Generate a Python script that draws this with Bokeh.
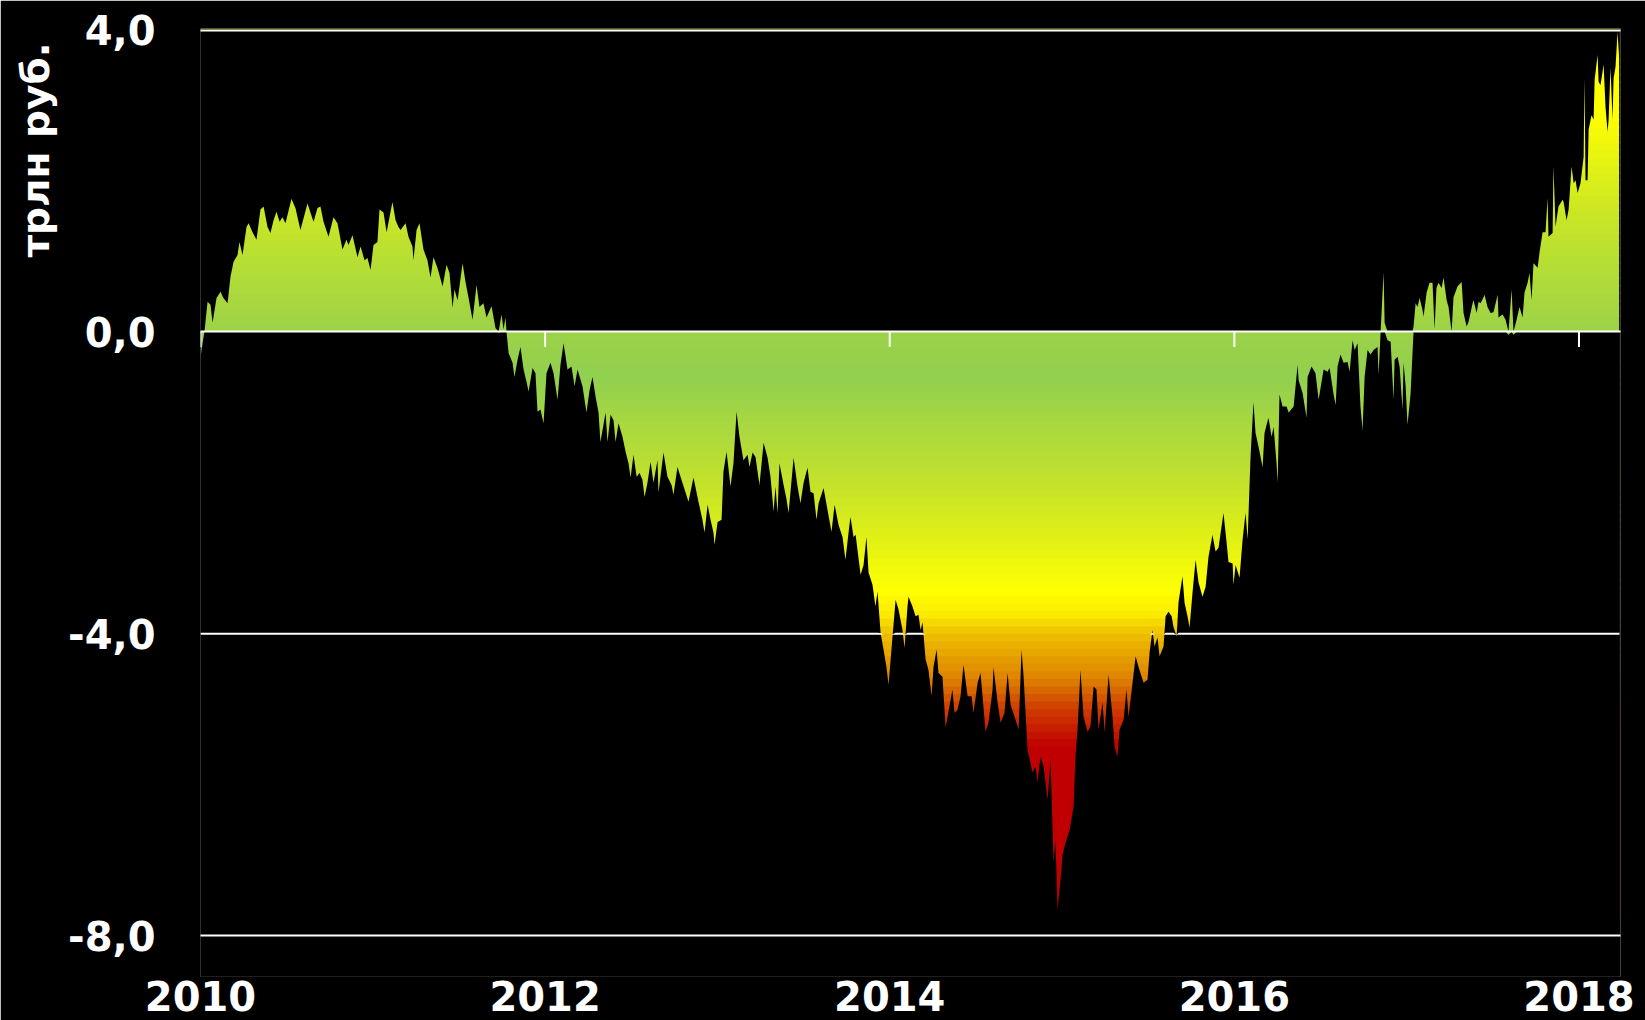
import numpy as np
from bokeh.plotting import figure
from bokeh.models import FixedTicker, Range1d, Title
from bokeh.embed import file_html
from bokeh.resources import INLINE

# ---- data (decimal year, trillion rubles) ----
year = [
    2010.000, 2010.012, 2010.023, 2010.041, 2010.058, 2010.070, 2010.093, 2010.116, 2010.133, 2010.157,
    2010.174, 2010.192, 2010.215, 2010.226, 2010.244, 2010.267, 2010.279, 2010.302, 2010.325, 2010.348,
    2010.366, 2010.389, 2010.406, 2010.424, 2010.441, 2010.459, 2010.476, 2010.493, 2010.528, 2010.551,
    2010.580, 2010.621, 2010.638, 2010.656, 2010.679, 2010.696, 2010.714, 2010.743, 2010.772, 2010.795,
    2010.824, 2010.847, 2010.859, 2010.882, 2010.911, 2010.929, 2010.952, 2010.969, 2010.987, 2011.004,
    2011.027, 2011.039, 2011.062, 2011.080, 2011.114, 2011.132, 2011.149,
    2011.161, 2011.190, 2011.207, 2011.230, 2011.236, 2011.254, 2011.271, 2011.294, 2011.317, 2011.335,
    2011.352, 2011.375, 2011.405, 2011.428, 2011.445, 2011.463, 2011.474, 2011.492, 2011.521, 2011.538,
    2011.555, 2011.579, 2011.602, 2011.619, 2011.642, 2011.660, 2011.689, 2011.712, 2011.730, 2011.747,
    2011.759, 2011.770, 2011.776, 2011.788, 2011.811, 2011.822, 2011.840, 2011.857, 2011.875, 2011.892,
    2011.904, 2011.927, 2011.944, 2011.956, 2011.973, 2011.991, 2012.008, 2012.031, 2012.049, 2012.072,
    2012.089, 2012.107, 2012.130, 2012.153, 2012.171, 2012.188, 2012.217, 2012.240, 2012.258, 2012.275,
    2012.293, 2012.310,
    2012.321, 2012.351, 2012.362, 2012.380, 2012.397, 2012.409, 2012.426, 2012.449, 2012.467, 2012.484,
    2012.496, 2012.513, 2012.531, 2012.548, 2012.565, 2012.577, 2012.594, 2012.612, 2012.629, 2012.652,
    2012.658, 2012.687, 2012.710, 2012.734, 2012.745, 2012.768, 2012.797, 2012.815, 2012.832, 2012.861,
    2012.890, 2012.913, 2012.925, 2012.943, 2012.960, 2012.977, 2012.983, 2013.001, 2013.024, 2013.035,
    2013.053, 2013.076, 2013.093, 2013.111, 2013.128, 2013.151, 2013.175, 2013.186, 2013.204, 2013.221,
    2013.244, 2013.268, 2013.291, 2013.308, 2013.326, 2013.337, 2013.349, 2013.360, 2013.384, 2013.401,
    2013.413, 2013.442, 2013.465, 2013.482,
    2013.500, 2013.523, 2013.540, 2013.558, 2013.575, 2013.587, 2013.616, 2013.639, 2013.662, 2013.680,
    2013.703, 2013.726, 2013.743, 2013.761, 2013.772, 2013.790, 2013.802, 2013.831, 2013.848, 2013.865,
    2013.877, 2013.900, 2013.917, 2013.929, 2013.947, 2013.964, 2013.981, 2013.993, 2014.010, 2014.034,
    2014.051, 2014.074, 2014.086, 2014.103, 2014.109, 2014.132, 2014.150, 2014.167, 2014.179, 2014.190,
    2014.208, 2014.225, 2014.243, 2014.254, 2014.272, 2014.283, 2014.306, 2014.318,
    2014.324, 2014.364, 2014.376, 2014.393, 2014.411, 2014.428, 2014.452, 2014.475, 2014.486, 2014.510,
    2014.527, 2014.544, 2014.556, 2014.573, 2014.597, 2014.602, 2014.626, 2014.643, 2014.666, 2014.684,
    2014.701, 2014.730, 2014.748, 2014.765, 2014.777, 2014.800, 2014.829, 2014.846, 2014.858, 2014.875,
    2014.893, 2014.916, 2014.933, 2014.951, 2014.962, 2014.974, 2014.991, 2015.003, 2015.020, 2015.044,
    2015.067, 2015.078, 2015.090, 2015.107, 2015.125, 2015.148, 2015.165, 2015.183, 2015.200, 2015.212,
    2015.235, 2015.247, 2015.270, 2015.293, 2015.305, 2015.322, 2015.334, 2015.357, 2015.374, 2015.386,
    2015.409, 2015.427, 2015.444, 2015.473, 2015.496, 2015.508, 2015.525, 2015.537, 2015.554, 2015.566,
    2015.589, 2015.601, 2015.618, 2015.636, 2015.647, 2015.665, 2015.676, 2015.699, 2015.711,
    2015.728, 2015.740, 2015.757, 2015.775, 2015.792, 2015.815, 2015.833, 2015.850, 2015.873, 2015.891,
    2015.908, 2015.937, 2015.955, 2015.966, 2015.990, 2015.995, 2016.007, 2016.030, 2016.048, 2016.065,
    2016.077, 2016.094, 2016.111, 2016.123, 2016.140, 2016.164, 2016.175, 2016.198, 2016.216, 2016.228,
    2016.245, 2016.251, 2016.262, 2016.280, 2016.303, 2016.315, 2016.344, 2016.367, 2016.373, 2016.396,
    2016.419, 2016.425, 2016.448, 2016.471, 2016.489, 2016.518, 2016.541, 2016.553, 2016.576, 2016.588,
    2016.599, 2016.616, 2016.634, 2016.657, 2016.669, 2016.686, 2016.698, 2016.715, 2016.732, 2016.744,
    2016.756, 2016.773, 2016.791, 2016.808, 2016.831, 2016.837,
    2016.849, 2016.866, 2016.872, 2016.889, 2016.907, 2016.924, 2016.930, 2016.947, 2016.959, 2016.976,
    2016.982, 2016.994, 2017.005, 2017.023, 2017.034, 2017.040, 2017.052, 2017.063, 2017.075, 2017.092,
    2017.098, 2017.116, 2017.133, 2017.150, 2017.162, 2017.173, 2017.185, 2017.203, 2017.214, 2017.232,
    2017.243, 2017.261, 2017.272, 2017.295, 2017.319, 2017.330, 2017.348, 2017.359, 2017.383, 2017.388,
    2017.406, 2017.417, 2017.429, 2017.446, 2017.452, 2017.469, 2017.487, 2017.504, 2017.528, 2017.533,
    2017.557, 2017.574, 2017.591, 2017.609, 2017.620, 2017.638, 2017.655, 2017.673, 2017.684, 2017.702,
    2017.713, 2017.725, 2017.736, 2017.760, 2017.771, 2017.789, 2017.806, 2017.818, 2017.823, 2017.847,
    2017.852, 2017.864, 2017.881, 2017.905, 2017.911, 2017.928, 2017.940, 2017.957, 2017.969, 2017.980,
    2017.992, 2018.009, 2018.027, 2018.032, 2018.038, 2018.050, 2018.056, 2018.073, 2018.085, 2018.091,
    2018.108, 2018.114, 2018.125, 2018.143, 2018.154, 2018.166, 2018.172, 2018.183, 2018.195, 2018.201,
    2018.212, 2018.224, 2018.235,
]

balance = [
    -0.35, -0.15, 0.00, 0.40, 0.36, 0.12, 0.45, 0.53, 0.45, 0.38,
    0.73, 0.93, 1.02, 1.19, 1.02, 1.39, 1.44, 1.32, 1.22, 1.62,
    1.66, 1.39, 1.31, 1.48, 1.59, 1.46, 1.52, 1.44, 1.76, 1.64,
    1.35, 1.70, 1.58, 1.46, 1.64, 1.66, 1.46, 1.26, 1.52, 1.44,
    1.09, 1.22, 1.15, 1.28, 0.99, 1.13, 0.95, 0.98, 0.82, 1.15,
    1.19, 1.62, 1.58, 1.32, 1.72, 1.48, 1.39,
    1.35, 1.44, 1.26, 1.13, 0.95, 1.35, 1.44, 1.09, 0.95, 0.72,
    0.99, 0.85, 0.60, 0.89, 0.78, 0.32, 0.56, 0.42, 0.91, 0.66,
    0.46, 0.16, 0.62, 0.33, 0.38, 0.19, 0.34, 0.05, -0.01, 0.23,
    0.03, 0.19, 0.00, -0.28, -0.41, -0.60, -0.37, -0.20, -0.50, -0.66,
    -0.79, -0.48, -0.55, -1.06, -1.03, -1.21, -0.55, -0.41, -0.55, -0.90,
    -0.44, -0.15, -0.50, -0.46, -0.72, -0.50, -0.72, -1.07, -0.77, -0.60,
    -0.86, -1.07,
    -1.46, -1.07, -1.46, -1.10, -1.17, -1.46, -1.21, -1.39, -1.59, -1.74,
    -1.93, -1.63, -1.92, -1.87, -1.96, -2.19, -2.00, -1.72, -2.00, -1.70,
    -2.13, -1.60, -1.92, -2.03, -2.16, -1.79, -2.00, -2.13, -2.25, -1.93,
    -2.25, -2.49, -2.66, -2.29, -2.49, -2.66, -2.82, -2.52, -2.49, -1.85,
    -1.59, -2.05, -1.74, -1.06, -1.39, -1.70, -1.63, -1.79, -1.60, -1.66,
    -2.03, -1.47, -1.67, -1.92, -2.38, -2.05, -2.40, -1.74, -2.03, -2.22,
    -2.40, -1.67, -2.05, -2.27,
    -2.00, -1.80, -2.12, -2.14, -2.49, -2.27, -2.07, -2.36, -2.65, -2.29,
    -2.56, -2.72, -3.02, -2.66, -2.45, -2.72, -2.69, -3.22, -3.09, -2.72,
    -3.19, -3.35, -3.64, -3.44, -3.99, -4.21, -4.44, -4.68, -4.21, -3.55,
    -3.68, -3.95, -4.19, -3.64, -3.51, -3.64, -3.77, -3.75, -3.95, -3.85,
    -4.34, -4.48, -4.83, -4.44, -4.21, -4.52, -4.57, -5.01,
    -5.25, -4.74, -5.05, -5.01, -4.83, -4.41, -4.83, -4.83, -5.05, -4.65,
    -4.52, -4.97, -5.30, -5.18, -4.74, -4.44, -4.91, -5.18, -5.05, -4.52,
    -4.94, -5.14, -5.27, -4.21, -4.57, -5.54, -5.84, -5.76, -5.97, -5.63,
    -5.76, -6.20, -5.67, -7.03, -6.73, -7.66, -7.26, -6.93, -6.77, -6.60,
    -6.29, -5.63, -5.27, -4.48, -5.10, -5.30, -5.23, -4.70, -4.74, -5.27,
    -4.91, -5.31, -4.54, -5.10, -5.50, -5.63, -5.27, -5.14, -4.74, -5.10,
    -4.65, -4.30, -4.44, -4.65, -4.61, -4.25, -3.95, -4.17, -4.05, -4.30,
    -4.17, -3.77, -3.71, -3.77, -3.91, -4.04, -3.58, -3.24, -3.59,
    -3.77, -3.92, -3.46, -3.02, -3.32, -3.51, -3.38, -2.98, -2.69, -2.91,
    -2.86, -2.40, -2.79, -3.05, -3.07, -3.35, -3.09, -3.26, -2.75, -2.40,
    -2.75, -1.66, -0.93, -1.34, -1.52, -1.79, -1.34, -1.14, -1.39, -1.26,
    -1.74, -2.00, -0.83, -0.99, -0.99, -1.07, -0.99, -0.44, -0.64, -0.81,
    -1.14, -0.60, -0.46, -0.55, -0.90, -0.50, -0.53, -0.48, -0.83, -0.97,
    -0.46, -0.30, -0.41, -0.40, -0.53, -0.11, -0.24, -0.15, -0.99, -1.30,
    -0.60, -0.24, -0.30, -0.24, -0.20, -0.57,
    0.00, 0.79, 0.12, -0.11, -0.13, -0.90, -0.37, -0.33, -0.46, -1.03,
    -0.41, -0.72, -1.23, -0.81, -0.28, 0.07, 0.38, 0.33, 0.45, 0.29,
    0.20, 0.52, 0.65, 0.65, 0.03, 0.58, 0.65, 0.58, 0.72, 0.42,
    0.33, 0.00, 0.46, 0.60, 0.66, 0.25, 0.07, 0.13, 0.38, 0.42,
    0.25, 0.40, 0.38, 0.46, 0.49, 0.33, 0.25, 0.26, 0.49, 0.19,
    0.23, 0.16, -0.04, 0.56, -0.04, 0.16, 0.33, 0.19, 0.52, 0.65,
    0.78, 0.42, 0.91, 0.85, 1.05, 1.32, 1.32, 1.77, 1.26, 1.31,
    2.19, 1.39, 1.66, 1.75, 1.72, 1.48, 1.62, 2.19, 1.97, 2.01,
    1.84, 1.97, 2.32, 3.36, 2.01, 2.01, 2.68, 2.87, 2.81, 3.34,
    3.67, 3.31, 3.27, 3.54, 2.98, 2.65, 2.81, 3.50, 2.81, 3.36,
    3.51, 3.97, 3.56,
]
assert len(year) == len(balance)

y_ticks = [4.0, 0.0, -4.0, -8.0]
x_ticks = [2010, 2012, 2014, 2016, 2018]
unit_label = "трлн руб."

# ---- styling ----
FONT = "DejaVu Sans"
# colour gradient stops (value -> RGB)
stop_v = [-8.0, -5.5, -5.0, -4.6, -4.0, -3.75, -3.45, -2.0, -0.6, 0.0, 1.5, 2.9, 4.3]
stop_r = [192, 192, 208, 222, 238, 250, 255, 196, 146, 156, 200, 255, 255]
stop_g = [0, 0, 60, 130, 192, 235, 255, 226, 208, 211, 230, 255, 255]
stop_b = [0, 0, 0, 0, 0, 0, 0, 44, 80, 72, 40, 0, 0]


def fmt(val):
    return f"{val:.1f}".replace(".", ",")


x = np.array(year, dtype=float)
v = np.array(balance, dtype=float)

p = figure(width=1645, height=1020,
           x_range=Range1d(2010.0, 2018.241), y_range=Range1d(-8.543, 4.02),
           output_backend="svg", toolbar_location=None,
           background_fill_color="black", border_fill_color="black",
           outline_line_color=None,
           min_border_left=200, min_border_right=25, min_border_top=28, min_border_bottom=44)
p.title.visible = False

# gradient bands (full width), later masked by the data outline
edges = np.round(np.arange(-7.8, 4.2001, 0.1), 3)
bottoms = edges[:-1]
tops = edges[1:]
mids = (bottoms + tops) / 2
colors = ["#%02x%02x%02x" % (int(np.interp(m, stop_v, stop_r)),
                             int(np.interp(m, stop_v, stop_g)),
                             int(np.interp(m, stop_v, stop_b))) for m in mids]
p.quad(left=x[0] + 0.004, right=x[-1] - 0.002, bottom=bottoms, top=tops + 0.02,
       fill_color=colors, line_color=None)

# black masks outside the area between zero and the series
p.varea(x=x, y1=np.maximum(v, 0), y2=4.6, fill_color="black")
p.varea(x=x, y1=-9.0, y2=np.minimum(v, 0), fill_color="black")

# the -4 grid line only shows where it is not covered by the fill
h = 0.014
p.varea(x=x, y1=-4.0 - h, y2=np.clip(np.minimum(v, 0), -4.0 - h, -4.0 + h), fill_color="white")

# grid lines drawn above the fill
p.xgrid.visible = False
p.ygrid.ticker = FixedTicker(ticks=[t for t in y_ticks if t != -4.0])
p.ygrid.grid_line_color = "white"
p.ygrid.grid_line_width = 2
p.ygrid.level = "overlay"

# year ticks hanging from the zero line
p.segment(x0=x_ticks, y0=0, x1=x_ticks, y1=-0.2, line_color="white", line_width=2)

# axes
for ax in (p.xaxis[0], p.yaxis[0]):
    ax.axis_line_color = None
    ax.major_tick_line_color = None
    ax.minor_tick_line_color = None
    ax.major_tick_out = 0
    ax.major_tick_in = 0
    ax.major_label_text_color = "white"
    ax.major_label_text_font = FONT
    ax.major_label_text_font_style = "bold"
    ax.major_label_text_font_size = "40px"

p.xaxis.ticker = FixedTicker(ticks=x_ticks)
p.xaxis.major_label_overrides = {t: str(t) for t in x_ticks}
p.xaxis.major_label_standoff = 4

p.yaxis.ticker = FixedTicker(ticks=y_ticks)
p.yaxis.major_label_overrides = {t: fmt(t) for t in y_ticks}
p.yaxis.major_label_standoff = 45

t = Title(text=unit_label, align="right", text_color="white", text_font=FONT,
          text_font_size="39px", text_font_style="bold", offset=14, standoff=15)
p.add_layout(t, "left")

open("out.html", "w").write(file_html(p, INLINE))
